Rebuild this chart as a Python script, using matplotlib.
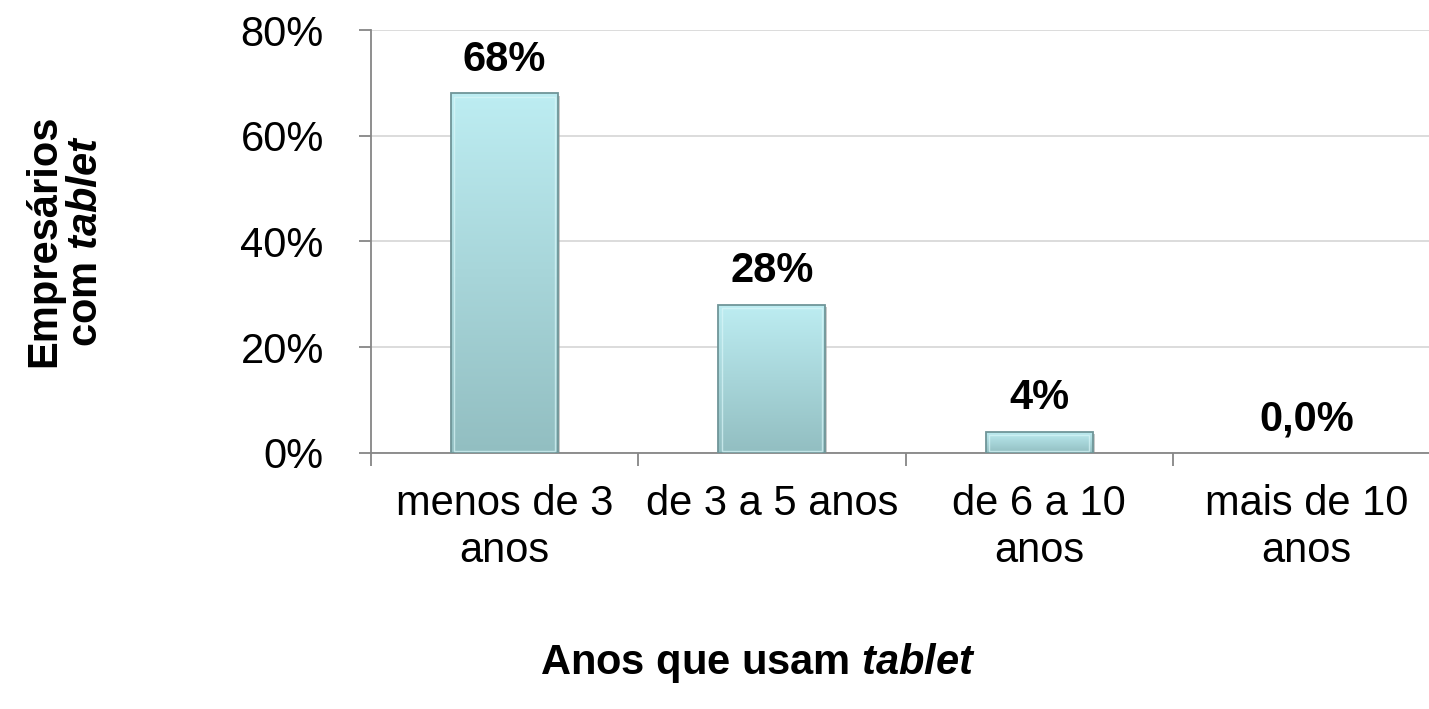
import numpy as np
import matplotlib
matplotlib.use("Agg")
import matplotlib.pyplot as plt
from matplotlib.colors import LinearSegmentedColormap
from matplotlib.patches import Rectangle

plt.rcParams['font.family'] = ['Liberation Sans', 'DejaVu Sans']
plt.rcParams['mathtext.fontset'] = 'custom'
plt.rcParams['mathtext.rm'] = 'Liberation Sans:bold'
plt.rcParams['mathtext.bf'] = 'Liberation Sans:bold'
plt.rcParams['mathtext.it'] = 'Liberation Sans:bold:italic'

categories = ["menos de 3\nanos", "de 3 a 5 anos", "de 6 a 10\nanos", "mais de 10\nanos"]
values = [68, 28, 4, 0]
value_labels = ["68%", "28%", "4%", "0,0%"]
yticks = [0, 20, 40, 60, 80]
ytick_labels = ["0%", "20%", "40%", "60%", "80%"]

fs = 30
fig = plt.figure(figsize=(14.29, 7.09), dpi=100)
ax = fig.add_axes([371 / 1429, 1 - 453 / 709, 1069 / 1429, 423 / 709])

x = np.arange(len(categories))
bar_w = 0.40
grad = LinearSegmentedColormap.from_list("bar", ["#92bec1", "#bdedf2"])

bars = ax.bar(x, values, width=bar_w, color="none", edgecolor="none", zorder=3)
for rect in bars:
    bx, by = rect.get_x(), rect.get_y()
    bw, bh = rect.get_width(), rect.get_height()
    if bh <= 0:
        continue
    # drop shadow
    ax.add_patch(Rectangle((bx + 0.008, by), bw, bh - 0.4, facecolor="#a6a6a6",
                           edgecolor="none", zorder=2, alpha=0.6))
    img = ax.imshow(np.linspace(0, 1, 256).reshape(-1, 1), cmap=grad, aspect="auto",
                    extent=(bx, bx + bw, by, by + bh), origin="lower", zorder=3)
    clip = Rectangle((bx, by), bw, bh, transform=ax.transData, facecolor="none")
    img.set_clip_path(clip)
    ax.add_patch(Rectangle((bx, by), bw, bh, facecolor="none",
                           edgecolor="#6f9598", linewidth=1.3, zorder=4))
    # bevel highlight
    ax.add_patch(Rectangle((bx + 0.012, by + 0.3), bw - 0.024, bh - 0.9, facecolor="none",
                           edgecolor="#d9f6f8", linewidth=1.0, alpha=0.7, zorder=4))

for xi, v, lab in zip(x, values, value_labels):
    ax.annotate(lab, (xi, v), xytext=(0, 10), textcoords="offset points",
                ha="center", va="bottom", fontsize=fs, fontweight="bold", zorder=5)

ax.set_xlim(-0.5, 3.5)
ax.set_ylim(0, 80)
ax.set_yticks(yticks)
ax.set_yticklabels(ytick_labels, fontsize=fs)
ax.set_xticks(x)
ax.set_xticklabels(categories, fontsize=fs, linespacing=1.25)
ax.set_xticks([-0.5, 0.5, 1.5, 2.5, 3.5], minor=True)
ax.tick_params(axis="x", which="major", length=0, pad=22)
ax.tick_params(axis="x", which="minor", length=9, color="#868686", width=1.3)
ax.tick_params(axis="y", length=9, color="#868686", width=1.3, pad=25)

ax.grid(axis="y", color="#d9d9d9", linewidth=1.3, zorder=0)
ax.set_axisbelow(True)
for s in ["top", "right"]:
    ax.spines[s].set_visible(False)
for s in ["left", "bottom"]:
    ax.spines[s].set_color("#868686")
    ax.spines[s].set_linewidth(1.3)

fig.text(65 / 1429, 1 - 241 / 709, "Empresários\ncom $\\mathit{tablet}$", rotation=90,
         ha="center", va="center", fontsize=fs, fontweight="bold", linespacing=1.05,
         multialignment="center")
fig.text(758 / 1429, 1 - 663 / 709, "Anos que usam $\\mathit{tablet}$",
         ha="center", va="center", fontsize=fs, fontweight="bold")

fig.savefig("out.png", dpi=100)
